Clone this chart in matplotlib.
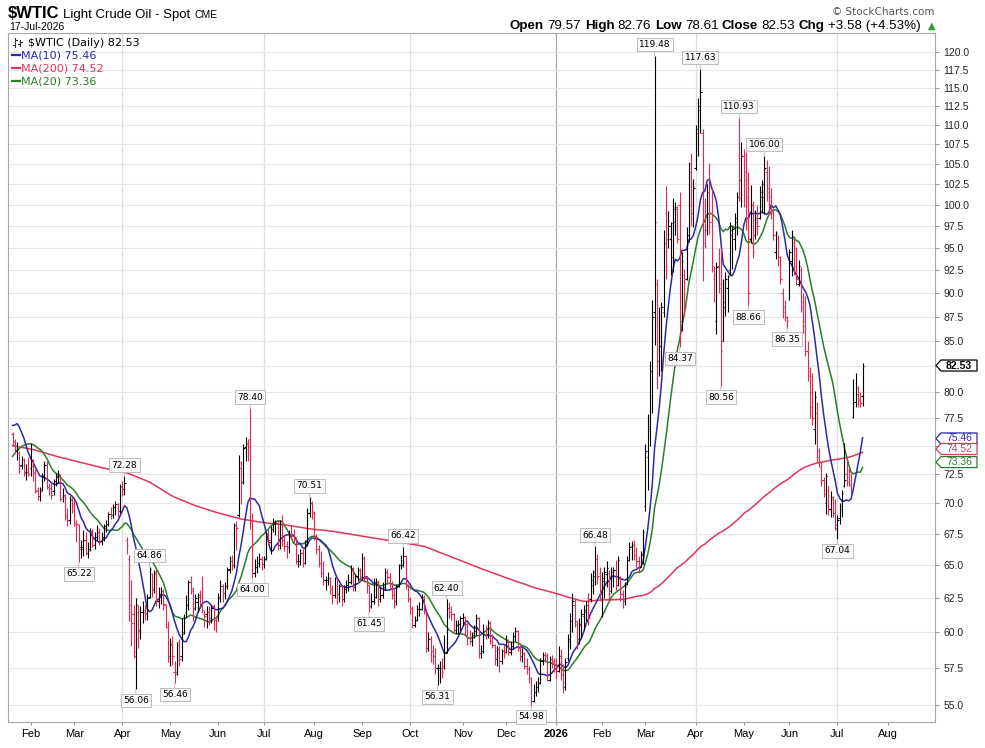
import numpy as np
import pandas as pd
import matplotlib
matplotlib.use("Agg")
import matplotlib.pyplot as plt
from matplotlib.collections import LineCollection
from matplotlib.lines import Line2D
from matplotlib.patches import Polygon
from matplotlib.transforms import IdentityTransform
from matplotlib.ticker import FixedLocator, NullLocator, FuncFormatter

W, H = 985, 748

# ---------------------------------------------------------------
# $WTIC daily bars, 22-Jan-2025 .. 17-Jul-2026 (one row per month)
# ---------------------------------------------------------------
opens = [
    76.0, 75.3, 74.6, 74.3, 73.3, 73.8, 72.7, 72.9,                                      # Jan 25
    73.0, 73.4, 72.6, 71.1, 70.6, 71.2, 72.4, 73.3, 71.4, 71.3, 71.0, 71.9, 72.2, 72.4,  # Feb 25
    70.5, 70.6, 69.0, 68.6, 70.3,
    69.9, 68.3, 68.2, 66.4, 66.3, 67.0, 66.0, 66.3, 67.7, 66.6, 67.2, 67.6, 66.9, 67.2,  # Mar 25
    68.1, 68.3, 69.1, 69.0, 69.7, 69.9, 69.4,
    71.4, 71.2, 67.0, 65.5, 61.0, 61.3, 58.3, 61.5, 60.2, 61.5, 61.6, 61.4, 62.6, 64.3,  # Apr 25
    63.2, 64.5, 62.3, 62.8, 63.0, 62.0, 60.4,
    58.3, 59.1, 57.2, 57.2, 59.3, 58.3, 60.0, 61.5, 62.0, 63.7, 63.0, 61.8, 62.2, 62.6,  # May 25
    62.7, 61.3, 61.3, 61.5, 61.0, 61.9, 60.9,
    61.0, 62.6, 63.4, 62.9, 63.4, 64.7, 65.3, 65.0, 68.2, 69.0, 73.5, 71.8, 74.9, 75.2,  # Jun 25
    75.6, 68.4, 64.4, 64.9, 65.2, 65.5,
    65.1, 65.5, 67.4, 66.8, 67.9, 68.3, 68.4, 66.6, 68.5, 67.0, 66.5, 66.4, 67.5, 67.3,  # Jul 25
    67.1, 65.3, 65.3, 66.0, 65.2, 66.8, 69.2, 70.0,
    69.2, 67.3, 66.3, 65.2, 64.4, 63.9, 63.9, 64.0, 63.2, 62.7, 64.0, 62.8, 63.4, 62.4,  # Aug 25
    63.2, 63.5, 63.7, 64.8, 63.3, 64.2, 64.6,
    64.1, 65.6, 64.0, 63.5, 61.9, 62.3, 62.6, 63.7, 62.4, 62.7, 63.3, 64.5, 64.1, 63.6,  # Sep 25
    62.7, 62.3, 63.4, 65.0, 65.0, 65.7, 63.5,
    62.4, 61.8, 60.5, 60.9, 61.7, 61.7, 62.6, 61.5, 58.9, 59.5, 58.7, 58.3, 57.5, 57.5,  # Oct 25
    57.5, 57.6, 58.6, 61.8, 61.5, 61.3, 60.2, 60.5, 60.6,
    61.0, 61.1, 60.6, 59.6, 59.4, 59.8, 60.1, 61.0, 58.5, 58.7, 60.1, 59.9, 60.7, 59.4,  # Nov 25
    59.1, 58.1, 58.8, 58.0, 58.7,
    58.6, 59.3, 58.6, 59.0, 59.7, 60.1, 58.9, 58.3, 58.5, 57.6, 57.4, 56.8, 55.3, 55.9,  # Dec 25
    56.2, 56.5, 58.0, 58.4, 58.4, 56.7, 58.1, 58.0,
    57.4, 57.3, 58.3, 57.0, 56.2, 58.2, 59.4, 60.8, 62.0, 60.6, 59.5, 60.5, 61.2, 61.5,  # Jan 26
    62.5, 62.4, 63.5, 64.5, 65.5, 64.4,
    62.8, 63.8, 64.3, 64.4, 63.0, 64.0, 64.6, 63.5, 64.0, 62.8, 62.3, 63.6, 65.4, 66.5,  # Feb 26
    66.6, 65.8, 65.3, 64.9, 65.8,
    69.8, 74.0, 76.5, 82.0, 88.0, 91.0, 83.0, 84.5, 88.0, 99.0, 96.0, 96.0, 94.0, 98.0,  # Mar 26
    99.5, 100.0, 87.0, 92.0, 91.5, 96.5, 105.0, 99.0,
    104.5, 109.0, 112.0, 109.0, 97.0, 97.0, 104.0, 99.0, 91.5, 87.0, 93.0, 91.0, 85.0,   # Apr 26
    88.5, 90.5, 92.5, 96.5, 96.0, 98.0, 106.0, 103.0,
    106.0, 104.0, 101.0, 96.0, 100.0, 96.5, 98.0, 98.5, 101.0, 101.0, 104.0, 102.0,      # May 26
    101.0, 99.0, 94.5, 96.0, 94.0, 90.0, 88.5, 87.5,
    89.5, 93.5, 95.5, 95.0, 91.0, 92.5, 89.0, 87.0, 84.0, 82.0, 80.0, 76.5, 78.0, 74.5,  # Jun 26
    73.0, 72.0, 70.0, 71.5, 69.5, 70.4, 69.2,
    68.0, 68.8, 69.5, 71.5, 72.5, 72.8, 71.5, 77.6, 79.0, 80.3, 79.3, 79.57,            # Jul 26
]
highs = [
    76.2, 75.6, 75.3, 74.5, 74.1, 73.9, 73.4, 74.0,
    75.2, 73.8, 72.9, 71.4, 71.4, 72.6, 73.6, 73.6, 71.7, 71.8, 72.1, 72.6, 72.8, 72.5,
    71.3, 70.8, 69.6, 70.6, 70.6,
    70.3, 68.6, 68.3, 67.0, 67.8, 67.6, 66.8, 68.0, 67.9, 67.6, 68.2, 68.0, 67.6, 68.3,
    68.6, 69.3, 69.7, 69.9, 70.2, 70.0, 71.6,
    71.9, 72.28, 67.2, 65.8, 63.9, 62.0, 62.5, 62.0, 61.9, 62.3, 62.0, 62.8, 64.86, 64.4,
    64.6, 64.7, 63.3, 63.3, 63.2, 62.1, 60.8,
    59.6, 59.7, 58.0, 59.3, 59.5, 61.0, 61.3, 62.7, 63.9, 64.2, 63.3, 62.8, 62.9, 63.1,
    64.2, 61.6, 61.9, 61.9, 62.0, 62.1, 61.0,
    62.9, 63.9, 63.6, 63.7, 64.9, 65.7, 65.8, 68.4, 68.5, 74.2, 73.6, 75.1, 75.8, 75.6,
    78.40, 69.2, 65.5, 65.7, 66.0, 65.7,
    65.7, 67.6, 67.8, 68.1, 68.8, 68.6, 68.6, 68.6, 69.0, 67.4, 66.9, 67.8, 68.2, 67.9,
    67.2, 65.9, 66.3, 66.3, 67.0, 69.6, 70.51, 70.2,
    69.4, 67.5, 66.6, 66.1, 65.3, 64.2, 64.5, 64.1, 63.5, 64.1, 64.0, 63.6, 63.5, 63.5,
    63.9, 64.3, 65.0, 64.9, 64.3, 64.9, 64.8,
    66.0, 65.7, 64.2, 63.6, 62.9, 64.0, 64.0, 63.9, 63.3, 63.7, 64.8, 64.7, 64.4, 63.8,
    63.2, 63.6, 65.1, 65.8, 66.42, 65.8, 63.6,
    62.6, 61.9, 61.2, 62.0, 62.2, 62.8, 62.7, 61.6, 60.0, 59.7, 59.1, 58.9, 57.8, 58.0,
    58.2, 59.8, 62.40, 62.2, 61.9, 61.4, 60.9, 60.9, 61.2,
    61.4, 61.2, 60.7, 60.2, 60.0, 60.5, 61.3, 61.1, 59.1, 60.6, 60.5, 60.9, 60.8, 59.9,
    59.2, 59.0, 59.0, 58.8, 59.1,
    59.8, 59.5, 59.4, 60.0, 60.4, 60.2, 59.1, 58.9, 58.6, 58.2, 57.6, 56.9, 56.4, 56.6,
    56.9, 58.2, 58.6, 58.6, 58.5, 58.3, 58.4, 58.2,
    58.2, 59.0, 58.8, 57.8, 58.2, 59.9, 61.4, 62.9, 62.4, 60.9, 61.0, 61.7, 62.0, 62.3,
    62.9, 64.4, 64.6, 66.48, 65.9, 64.9,
    64.5, 64.9, 65.3, 64.6, 64.9, 64.9, 65.4, 65.7, 64.2, 63.1, 63.7, 65.7, 66.8, 66.9,
    67.0, 66.4, 65.7, 66.1, 67.9,
    75.1, 77.9, 83.0, 89.3, 119.48, 91.5, 88.5, 89.0, 97.0, 102.3, 99.3, 98.0, 100.8,
    100.3, 99.9, 101.5, 94.5, 92.6, 97.4, 105.3, 106.4, 103.2,
    110.0, 113.6, 117.63, 109.5, 100.8, 102.5, 105.1, 102.0, 93.0, 93.4, 95.0, 95.0,
    91.5, 92.3, 92.0, 98.0, 97.5, 99.0, 101.6, 110.93, 107.8,
    106.9, 106.5, 104.0, 102.4, 100.5, 99.4, 100.0, 102.3, 103.0, 106.00, 105.5, 104.8,
    102.0, 99.5, 96.9, 96.5, 94.1, 90.5, 89.3, 87.6,
    94.9, 97.0, 96.0, 95.1, 93.6, 92.8, 90.0, 89.7, 85.0, 82.4, 81.8, 80.1, 79.0, 74.8,
    73.5, 72.2, 72.6, 71.5, 71.0, 70.6, 70.4,
    69.0, 70.0, 71.1, 75.2, 74.0, 73.1, 72.6, 81.2, 81.8, 80.5, 80.0, 82.76,
]
lows = [
    75.0, 74.3, 73.7, 72.6, 72.9, 72.3, 72.0, 72.3,
    72.3, 71.9, 70.9, 70.3, 70.2, 71.0, 71.9, 71.2, 70.7, 70.4, 70.7, 71.5, 71.7, 70.2,
    70.1, 68.6, 68.1, 68.3, 69.2,
    68.1, 66.8, 65.22, 65.6, 65.7, 65.8, 65.6, 66.1, 66.4, 66.3, 67.0, 66.6, 66.6, 66.9,
    67.6, 68.1, 68.7, 68.8, 69.0, 68.9, 69.2,
    70.6, 70.7, 65.9, 60.8, 59.0, 58.2, 56.06, 58.9, 59.5, 60.7, 60.9, 60.9, 62.5, 62.6,
    62.9, 61.9, 61.8, 62.1, 61.6, 60.3, 57.9,
    57.6, 57.7, 56.46, 57.0, 57.6, 58.0, 59.9, 61.1, 61.6, 62.8, 60.8, 61.6, 61.5, 61.9,
    61.4, 60.4, 60.3, 60.5, 60.7, 60.2, 60.0,
    60.8, 62.2, 62.2, 62.4, 63.2, 64.4, 64.6, 64.8, 66.2, 68.9, 69.9, 71.6, 73.6, 73.6,
    67.9, 64.00, 64.1, 64.4, 64.9, 64.6,
    64.8, 65.4, 66.6, 65.9, 67.6, 67.4, 66.2, 66.3, 66.5, 66.1, 65.6, 66.0, 67.1, 66.8,
    65.1, 64.9, 65.0, 64.9, 65.1, 66.5, 68.9, 68.7,
    67.0, 65.9, 64.9, 64.1, 63.5, 63.1, 63.5, 62.8, 62.1, 62.5, 62.1, 62.2, 61.9, 62.2,
    62.9, 63.0, 63.6, 63.0, 63.0, 63.8, 63.8,
    63.9, 63.7, 62.9, 61.45, 61.8, 62.1, 62.5, 61.9, 62.2, 62.5, 63.1, 63.6, 63.1, 62.4,
    61.8, 62.0, 63.3, 64.7, 64.9, 63.2, 62.2,
    61.3, 60.3, 60.4, 60.8, 61.2, 61.6, 61.3, 58.6, 58.7, 57.9, 57.8, 57.1, 56.31, 56.5,
    56.8, 57.4, 58.5, 61.0, 60.9, 60.0, 59.9, 59.9, 60.1,
    60.5, 59.8, 59.1, 59.2, 59.0, 59.6, 59.8, 58.2, 58.2, 58.5, 59.5, 59.6, 59.2, 58.9,
    57.7, 57.6, 57.2, 57.8, 58.2,
    58.5, 58.4, 58.4, 58.8, 59.4, 58.7, 58.0, 57.9, 57.4, 57.1, 56.5, 54.98, 55.2, 55.6,
    55.9, 56.4, 57.7, 57.9, 56.6, 56.6, 57.5, 57.2,
    56.8, 57.2, 56.7, 55.8, 56.0, 58.0, 58.8, 60.0, 60.4, 58.8, 59.2, 59.6, 60.2, 60.8,
    60.5, 62.2, 62.8, 63.5, 63.6, 62.3,
    61.1, 62.5, 63.3, 62.3, 62.9, 63.3, 63.1, 63.4, 62.3, 61.8, 62.0, 63.5, 65.3, 65.4,
    65.4, 64.9, 64.4, 64.9, 65.1,
    69.4, 71.1, 75.0, 78.0, 84.6, 80.2, 81.5, 82.0, 87.5, 91.5, 95.0, 92.0, 92.3, 96.5,
    95.6, 84.37, 86.0, 87.6, 91.4, 95.7, 97.5, 97.4,
    104.3, 106.0, 109.0, 91.3, 95.0, 96.5, 96.6, 92.3, 89.0, 85.7, 90.0, 80.56, 85.0,
    87.6, 88.0, 92.0, 92.6, 94.8, 96.5, 100.5, 99.8,
    99.8, 97.0, 88.66, 95.5, 93.9, 96.0, 96.5, 98.3, 99.0, 98.9, 100.5, 99.0, 98.3, 95.9,
    93.7, 93.0, 91.0, 87.4, 87.0, 86.35,
    89.3, 91.8, 92.0, 90.9, 90.8, 88.0, 85.8, 83.5, 81.0, 77.5, 76.9, 75.1, 73.5, 73.1,
    71.5, 70.5, 69.1, 69.0, 68.9, 68.9, 67.8,
    67.04, 68.3, 68.9, 71.4, 71.5, 71.5, 70.8, 77.5, 78.5, 78.5, 78.5, 78.61,
]
closes = [
    75.4, 74.6, 74.7, 73.2, 73.8, 72.6, 72.7, 72.5,
    73.2, 72.7, 71.0, 70.6, 71.0, 72.3, 73.3, 71.4, 71.3, 70.7, 71.9, 72.3, 72.5, 70.4,
    70.7, 68.9, 68.6, 70.4, 69.8,
    68.4, 68.3, 66.3, 66.4, 67.0, 66.0, 66.3, 67.7, 66.6, 67.2, 67.6, 66.9, 67.2, 68.1,
    68.3, 69.1, 69.0, 69.7, 69.9, 69.4, 71.5,
    71.2, 71.7, 66.6, 62.0, 60.7, 58.6, 62.0, 60.1, 61.5, 61.5, 61.3, 62.5, 64.7, 63.1,
    64.3, 62.3, 62.8, 63.0, 62.1, 60.4, 58.2,
    59.2, 58.3, 57.1, 59.1, 58.1, 59.9, 61.0, 62.0, 63.7, 63.2, 61.6, 62.5, 62.7, 62.6,
    61.6, 61.2, 61.5, 60.9, 61.8, 60.9, 60.8,
    62.5, 63.4, 62.9, 63.4, 64.6, 65.3, 65.0, 68.2, 68.0, 73.0, 71.8, 74.8, 75.1, 74.9,
    68.5, 64.4, 64.9, 65.2, 65.5, 65.1,
    65.5, 67.5, 67.0, 67.9, 68.3, 68.4, 66.6, 68.5, 67.0, 66.5, 66.4, 67.5, 67.3, 67.2,
    65.3, 65.3, 66.0, 65.2, 66.7, 69.2, 70.0, 69.3,
    67.3, 66.3, 65.2, 64.4, 63.9, 63.9, 64.0, 63.2, 62.7, 64.0, 62.8, 63.4, 62.4, 63.2,
    63.5, 63.7, 64.8, 63.3, 64.2, 64.6, 64.0,
    65.6, 64.0, 63.5, 61.9, 62.3, 62.6, 63.7, 62.4, 62.7, 63.3, 64.5, 64.1, 63.6, 62.7,
    62.3, 63.4, 65.0, 65.0, 65.7, 63.5, 62.4,
    61.8, 60.5, 60.9, 61.7, 61.7, 62.6, 61.5, 58.9, 59.5, 58.7, 58.3, 57.5, 57.5, 57.5,
    57.2, 58.5, 61.8, 61.5, 61.3, 60.2, 60.5, 60.6, 61.0,
    61.1, 60.6, 59.6, 59.4, 59.8, 60.1, 61.0, 58.5, 58.7, 60.1, 59.9, 60.7, 59.4, 59.1,
    58.1, 58.8, 58.0, 58.7, 58.6,
    59.3, 58.6, 59.0, 59.7, 60.1, 58.9, 58.3, 58.5, 57.6, 57.4, 56.8, 55.3, 55.9, 56.2,
    56.5, 58.0, 58.4, 58.3, 56.7, 58.1, 58.0, 57.4,
    57.3, 58.3, 57.1, 56.2, 57.9, 59.5, 60.8, 62.3, 60.8, 59.4, 60.6, 61.3, 61.6, 62.0,
    61.0, 63.9, 64.2, 65.5, 64.2, 62.8,
    64.0, 64.5, 64.8, 62.8, 64.5, 64.6, 63.5, 65.4, 62.8, 62.3, 63.4, 65.4, 66.4, 66.6,
    65.8, 65.3, 64.8, 65.9, 67.6,
    74.5, 76.8, 82.0, 87.5, 98.0, 83.0, 84.5, 88.5, 95.5, 93.0, 97.5, 97.8, 99.5, 99.8,
    96.0, 86.0, 93.5, 88.5, 96.5, 104.0, 98.5, 102.0,
    109.5, 112.5, 114.5, 95.5, 95.2, 101.5, 98.0, 93.0, 92.0, 92.8, 90.5, 84.0, 89.0,
    91.5, 91.8, 97.0, 97.2, 98.5, 101.0, 100.8, 106.0,
    103.0, 98.0, 90.0, 100.0, 94.5, 98.5, 97.5, 101.5, 102.5, 104.5, 101.5, 100.5, 99.0,
    96.5, 96.7, 94.0, 91.5, 88.0, 87.5, 87.0,
    94.5, 96.0, 93.0, 91.5, 93.0, 88.5, 86.5, 84.0, 81.5, 78.5, 77.5, 79.5, 74.0, 73.5,
    72.0, 70.8, 72.3, 69.5, 70.5, 69.2, 68.2,
    68.6, 69.8, 70.9, 72.0, 71.8, 71.6, 71.2, 79.0, 79.8, 79.2, 78.95, 82.53,
]
# closes of the 19 sessions before the first bar (only feed the moving averages)
close_before = [69.46, 69.24, 70.10, 69.62, 70.60, 70.99, 71.72, 73.13, 73.96, 73.56,
                74.25, 73.32, 76.57, 78.82, 77.50, 80.04, 78.68, 77.88, 75.83]
# MA(200) at bars 0, 10, 20 ... 190 (older closes are not shown)
ma200_read = [75.0, 74.6, 74.0, 73.5, 73.0, 72.6, 71.8, 70.6, 69.8, 69.2,
              68.7, 68.4, 68.2, 67.9, 67.7, 67.4, 67.1, 66.8, 66.5, 65.8]

pivot_highs = [72.28, 64.86, 78.40, 70.51, 66.42, 62.40, 66.48, 119.48, 117.63, 110.93, 106.00]
pivot_lows = [65.22, 56.06, 56.46, 64.00, 61.45, 56.31, 54.98, 84.37, 80.56, 88.66, 86.35, 67.04]

y_ticks = [55.0, 57.5, 60.0, 62.5, 65.0, 67.5, 70.0, 72.5, 75.0, 77.5, 80.0, 82.5, 85.0,
           87.5, 90.0, 92.5, 95.0, 97.5, 100.0, 102.5, 105.0, 107.5, 110.0, 112.5,
           115.0, 117.5, 120.0]
# tick labels hidden behind the value tags on the right
y_hidden = [75.0, 82.5]

market_holidays = ["2025-01-20", "2025-02-17", "2025-04-18", "2025-05-26", "2025-06-19",
                   "2025-07-04", "2025-09-01", "2025-11-27", "2025-12-25", "2026-01-01",
                   "2026-01-19", "2026-02-16", "2026-04-03", "2026-05-25", "2026-06-19",
                   "2026-07-03"]

header = [("Open", True), ("79.57", False), ("High", True), ("82.76", False),
          ("Low", True), ("78.61", False), ("Close", True), ("82.53", False),
          ("Chg", True), ("+3.58 (+4.53%)", False)]
legend_rows = [("MA(10) 75.46", "#2b2ba8"), ("MA(200) 74.52", "#e0365a"), ("MA(20) 73.36", "#2a7d2a")]

UP, DOWN = "#000000", "#e8264f"
C_MA10, C_MA200, C_MA20 = "#2b2ba8", "#e0365a", "#2a7d2a"

# ---------------------------------------------------------------
opens, highs, lows, closes = map(np.asarray, (opens, highs, lows, closes))
n = len(closes)
assert len(opens) == len(highs) == len(lows) == n

days = pd.bdate_range("2025-01-01", "2026-08-31", freq="C", holidays=market_holidays)
end = days.get_loc(pd.Timestamp("2026-07-17"))
days = days[end - n + 1:]
x = np.arange(n)

allc = pd.Series(np.r_[close_before, closes])
ma10 = allc.rolling(10).mean().to_numpy()[len(close_before):]
ma20 = allc.rolling(20).mean().to_numpy()[len(close_before):]
ma200 = pd.Series(closes).rolling(200).mean().to_numpy()
ma200_x = np.r_[np.arange(len(ma200_read)) * 10, np.arange(199, n)]
ma200_y = np.r_[ma200_read, ma200[199:]]

fig = plt.figure(figsize=(W / 100, H / 100), dpi=100)
fig.patch.set_facecolor("white")
ax = fig.add_axes([8 / W, 26 / H, 927 / W, 689 / H])
ax.set_yscale("log")
ax.set_ylim(53.9, 122.8)
ax.set_xlim(-1.97, 403.7)

# grid
ax.yaxis.set_major_locator(FixedLocator(y_ticks))
ax.yaxis.set_minor_locator(NullLocator())
ax.yaxis.set_major_formatter(FuncFormatter(lambda v, p: "" if round(v, 1) in y_hidden else f"{v:.1f}"))
ax.grid(axis="y", color="#e6e6e6", lw=0.8, zorder=0)

per = days.to_period("M")
first = np.r_[True, per[1:] != per[:-1]]
mpos = np.nonzero(first)[0][1:]
mlab = [str(days[p].year) if days[p].month == 1 else days[p].strftime("%b") for p in mpos]
for p in mpos:
    if days[p].month in (1, 4, 7, 10):
        c = "#a8a8a8" if days[p].month == 1 else "#dddddd"
        ax.axvline(p, color=c, lw=0.9, zorder=0)

ax.set_xticks(mpos)
ax.set_xticklabels(mlab)
for t, lab in zip(ax.get_xticklabels(), mlab):
    t.set_family("Liberation Sans")
    if lab.isdigit():
        t.set_weight("bold")
ax.tick_params(axis="x", labelsize=8, length=2, color="#999999", pad=3)
ax.yaxis.tick_right()
ax.tick_params(axis="y", labelsize=7.5, length=3, color="#999999", pad=3, labelcolor="#222222")
for t in ax.get_yticklabels():
    t.set_family("Liberation Sans")
for s in ax.spines.values():
    s.set_color("#a8a8a8")
    s.set_linewidth(0.8)

# moving averages
ax.plot(ma200_x, ma200_y, color=C_MA200, lw=1.1, zorder=2)
ax.plot(x, ma20, color=C_MA20, lw=1.1, zorder=2)
ax.plot(x, ma10, color=C_MA10, lw=1.1, zorder=2)

# OHLC bars
prev = np.r_[close_before[-1], closes[:-1]]
cols = np.where(closes >= prev, UP, DOWN)
segs, segc = [], []
for i in range(n):
    segs += [[(i, lows[i]), (i, highs[i])],
             [(i - 0.55, opens[i]), (i, opens[i])],
             [(i, closes[i]), (i + 0.55, closes[i])]]
    segc += [cols[i]] * 3
ax.add_collection(LineCollection(segs, colors=segc, linewidths=0.8, zorder=3))

# pivot labels
box = dict(boxstyle="square,pad=0.25", fc="#f8f8f8", ec="#b4b4b4", lw=0.6)
for v in pivot_highs:
    i = int(np.nonzero(np.isclose(highs, v))[0][0])
    ax.annotate(f"{v:.2f}", xy=(i, v), xytext=(0, 5), textcoords="offset points",
                ha="center", va="bottom", fontsize=6.5, bbox=box, zorder=6,
                arrowprops=dict(arrowstyle="-", color="#b4b4b4", lw=0.6, shrinkA=0, shrinkB=0))
for v in pivot_lows:
    i = int(np.nonzero(np.isclose(lows, v))[0][0])
    ax.annotate(f"{v:.2f}", xy=(i, v), xytext=(0, -5), textcoords="offset points",
                ha="center", va="top", fontsize=6.5, bbox=box, zorder=6,
                arrowprops=dict(arrowstyle="-", color="#b4b4b4", lw=0.6, shrinkA=0, shrinkB=0))


# ---------------------------------------------------------------
def put(px, py, s, **kw):
    return fig.text(px / W, 1 - py / H, s, **kw)


renderer = fig.canvas.get_renderer()


def run(px, py, parts, gap=4):
    for s, kw in parts:
        t = put(px, py, s, va="baseline", **kw)
        px += t.get_window_extent(renderer).width + gap
    return px


# title block
run(8, 18, [("$WTIC", dict(fontsize=12, weight="bold", family="Liberation Sans")),
            ("Light Crude Oil - Spot", dict(fontsize=9.5, family="Liberation Sans")),
            ("CME", dict(fontsize=7.5, family="Liberation Sans"))], gap=4)
put(9, 30.5, "17-Jul-2026", fontsize=7.5, family="Liberation Sans", va="baseline")
put(935, 15, "\u00a9 StockCharts.com", fontsize=7.5, color="#555555", ha="right", va="baseline")

parts = []
for s, b in header:
    parts.append((s, dict(fontsize=9.6, family="Liberation Sans", weight="bold" if b else "normal")))
xe = run(510, 29, parts, gap=3.5)
put(xe + 3, 29, "\u25b2", fontsize=7, color="#2a9d2a", va="baseline")

# legend inside the chart
put(28, 46, "$WTIC (Daily) 82.53", fontsize=8, va="baseline")
for (cx, top, bot, o, c) in [(15, 38, 47, 45, 40), (20, 40, 46, 44, 42)]:
    fig.add_artist(Line2D([cx, cx], [H - top, H - bot], color="#333333", lw=0.8, transform=IdentityTransform()))
    fig.add_artist(Line2D([cx - 2, cx], [H - o, H - o], color="#333333", lw=0.8, transform=IdentityTransform()))
    fig.add_artist(Line2D([cx, cx + 2], [H - c, H - c], color="#333333", lw=0.8, transform=IdentityTransform()))
for k, (s, c) in enumerate(legend_rows):
    yb = 58 + 13.3 * k
    fig.add_artist(Line2D([12, 20], [H - yb + 3.5, H - yb + 3.5], color=c, lw=1.6, transform=IdentityTransform()))
    put(21, yb, s, fontsize=8, color=c, va="baseline")


# right-hand value tags
def tag(text, color, yc, bold=False):
    x0 = ax.transAxes.transform((1, 0))[0] + 1
    h = 5.5
    pts = [(x0, yc), (x0 + 5, yc + h), (x0 + 41, yc + h), (x0 + 41, yc - h), (x0 + 5, yc - h)]
    fig.add_artist(Polygon(pts, closed=True, fc="white", ec=color, lw=0.9,
                           transform=IdentityTransform(), zorder=5))
    fig.text((x0 + 23) / W, yc / H, text, ha="center", va="center", fontsize=7.5,
             color=color, weight="bold" if bold else "normal", zorder=6, family="Liberation Sans")


tag("82.53", "#000000", ax.transData.transform((0, 82.53))[1], bold=True)
vals = [(75.46, C_MA10), (74.52, C_MA200), (73.36, C_MA20)]
ys = [ax.transData.transform((0, v))[1] + 2 for v, _ in vals]
for k in range(1, len(ys)):
    ys[k] = min(ys[k], ys[k - 1] - 10.5)
for (v, c), yc in zip(vals, ys):
    tag(f"{v:.2f}", c, yc)

fig.savefig("out.png", dpi=100, facecolor="white")
